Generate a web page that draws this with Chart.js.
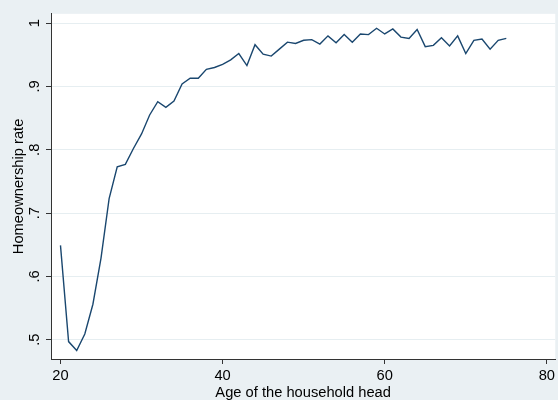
<!DOCTYPE html>
<html>
<head>
<meta charset="utf-8">
<script src="https://cdn.jsdelivr.net/npm/chart.js@4"></script>
<style>
  html, body { margin: 0; padding: 0; background: #eaf0f3; }
  canvas { display: block; }
</style>
</head>
<body>
<canvas id="chart" width="558" height="400"></canvas>
<script>
// age of household head, 20..75
const ages = [20, 21, 22, 23, 24, 25, 26, 27, 28, 29,
  30, 31, 32, 33, 34, 35, 36, 37, 38, 39,
  40, 41, 42, 43, 44, 45, 46, 47, 48, 49,
  50, 51, 52, 53, 54, 55, 56, 57, 58, 59,
  60, 61, 62, 63, 64, 65, 66, 67, 68, 69,
  70, 71, 72, 73, 74, 75]

const rates = [0.649, 0.497, 0.483, 0.509, 0.556, 0.629, 0.723, 0.773, 0.777, 0.802,
  0.825, 0.855, 0.876, 0.867, 0.877, 0.904, 0.913, 0.913, 0.927, 0.930,
  0.935, 0.942, 0.952, 0.933, 0.966, 0.951, 0.948, 0.959, 0.970, 0.968,
  0.973, 0.974, 0.967, 0.980, 0.969, 0.982, 0.970, 0.983, 0.982, 0.992,
  0.983, 0.991, 0.978, 0.976, 0.990, 0.963, 0.965, 0.977, 0.964, 0.980,
  0.952, 0.973, 0.975, 0.959, 0.973, 0.976]

const xTicks = [20, 40, 60, 80]
const yTicks = [0.5, 0.6, 0.7, 0.8, 0.9, 1]
const yTickLabels = ['.5', '.6', '.7', '.8', '.9', '1']

const navy = '#1a476f'
const axisGray = '#333333'
const gridColor = '#e6eef1'
const fontFamily = '"Liberation Sans", Arial, sans-serif'
const fontSize = 14.7

// white plot region like Stata
const plotBg = {
    id: 'plotBg',
    beforeDraw(chart) {
        const { ctx, chartArea: a } = chart
        ctx.save()
        ctx.fillStyle = '#ffffff'
        ctx.fillRect(a.left, a.top, a.right - a.left, a.bottom - a.top)
        ctx.restore()
    }
}

const ctx = document.getElementById('chart').getContext('2d')

new Chart(ctx, {
    type: 'line',
    data: {
        datasets: [{
            data: ages.map((a, i) => ({ x: a, y: rates[i] })),
            borderColor: navy,
            borderWidth: 1.4,
            pointRadius: 0,
            tension: 0,
            fill: false
        }]
    },
    options: {
        responsive: false,
        animation: false,
        layout: { padding: { top: 10, left: 0, right: 0, bottom: 0 } },
        plugins: { legend: { display: false }, tooltip: { enabled: false } },
        scales: {
            x: {
                type: 'linear',
                min: 18.83,
                max: 81.04,
                afterBuildTicks: s => { s.ticks = xTicks.map(v => ({ value: v })) },
                afterFit: s => { s.height = 41 },
                ticks: {
                    autoSkip: false,
                    maxRotation: 0,
                    color: '#000',
                    padding: 3,
                    font: { family: fontFamily, size: fontSize },
                    callback: v => String(v)
                },
                grid: { drawOnChartArea: false, tickLength: 5, tickColor: axisGray },
                border: { color: axisGray, width: 1 },
                title: {
                    display: true,
                    text: 'Age of the household head',
                    color: '#000',
                    padding: { top: 0, bottom: 0 },
                    font: { family: fontFamily, size: fontSize, lineHeight: 1.0 }
                }
            },
            y: {
                type: 'linear',
                min: 0.4695,
                max: 1.0148,
                afterBuildTicks: s => { s.ticks = yTicks.map(v => ({ value: v })) },
                afterFit: s => { s.width = 51 },
                ticks: {
                    autoSkip: false,
                    minRotation: 90,
                    maxRotation: 90,
                    crossAlign: 'center',
                    color: '#000',
                    padding: 5,
                    font: { family: fontFamily, size: fontSize },
                    callback: v => yTickLabels[yTicks.indexOf(v)] ?? ''
                },
                grid: { color: gridColor, lineWidth: 1, tickLength: 5, tickColor: axisGray },
                border: { color: axisGray, width: 1 },
                title: {
                    display: true,
                    text: 'Homeownership rate',
                    color: '#000',
                    padding: { top: 10, bottom: 0 },
                    font: { family: fontFamily, size: fontSize }
                }
            }
        }
    },
    plugins: [plotBg]
})
</script>
</body>
</html>
